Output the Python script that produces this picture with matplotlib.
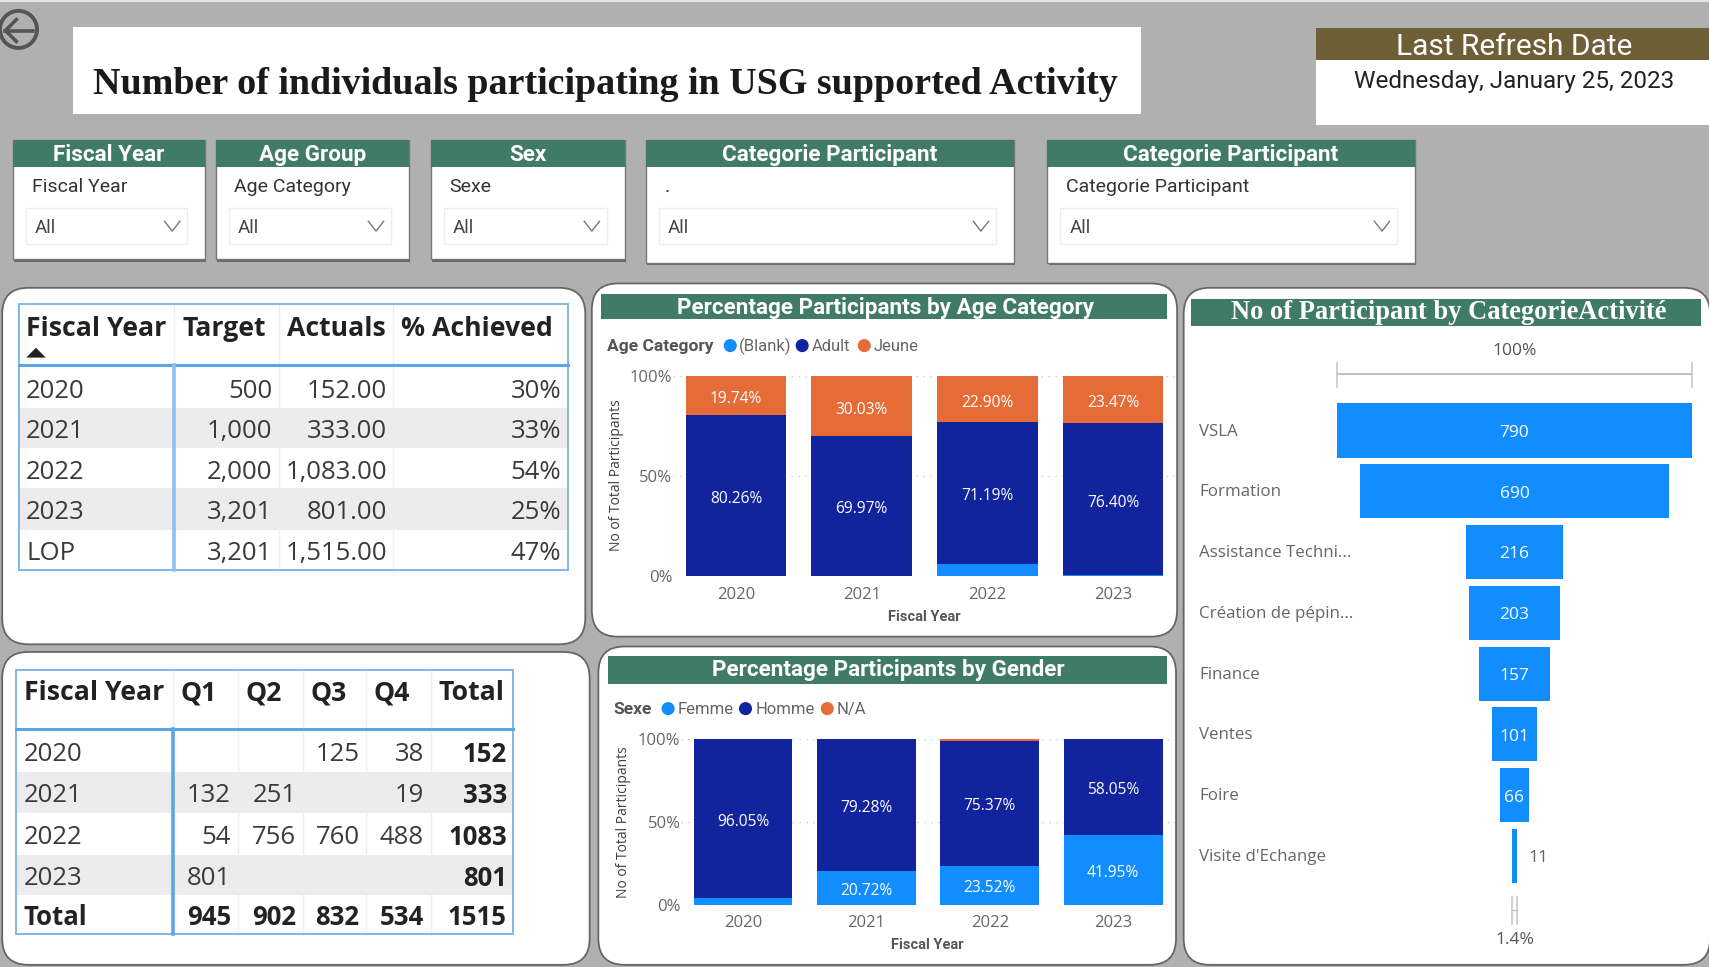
import matplotlib
matplotlib.use('Agg')
import matplotlib.pyplot as plt
from matplotlib.patches import FancyBboxPatch, Rectangle, Circle, Polygon
import numpy as np

W, H = 1568, 887  # layout coords are those of the shrunk reference

# data
title = 'Number of individuals participating in USG supported Activity'
slicer_titles = ['Fiscal Year', 'Age Group', 'Sex', 'Categorie Participant', 'Categorie Participant']
slicer_labels = ['Fiscal Year', 'Age Category', 'Sexe', '.', 'Categorie Participant']

t1_header = ['Fiscal Year', 'Target', 'Actuals', '% Achieved']
t1_years = ['2020', '2021', '2022', '2023', 'LOP']
t1_target = ['500', '1,000', '2,000', '3,201', '3,201']
t1_actuals = ['152.00', '333.00', '1,083.00', '801.00', '1,515.00']
t1_achieved = ['30%', '33%', '54%', '25%', '47%']

t2_header = ['Fiscal Year', 'Q1', 'Q2', 'Q3', 'Q4', 'Total']
t2_years = ['2020', '2021', '2022', '2023', 'Total']
t2_q1 = ['', '132', '54', '801', '945']
t2_q2 = ['', '251', '756', '', '902']
t2_q3 = ['125', '', '760', '', '832']
t2_q4 = ['38', '19', '488', '', '534']
t2_total = ['152', '333', '1083', '801', '1515']

years = ['2020', '2021', '2022', '2023']
age_blank = [0.0, 0.0, 5.91, 0.13]
age_adult = [80.26, 69.97, 71.19, 76.40]
age_jeune = [19.74, 30.03, 22.90, 23.47]
sex_femme = [3.95, 20.72, 23.52, 41.95]
sex_homme = [96.05, 79.28, 75.37, 58.05]
sex_na = [0.0, 0.0, 1.11, 0.0]

funnel_cats = ['VSLA', 'Formation', 'Assistance Techni...', 'Création de pépin...', 'Finance', 'Ventes', 'Foire', "Visite d'Echange"]
funnel_vals = [790, 690, 216, 203, 157, 101, 66, 11]

GREEN = '#3f7b66'
BLUE = '#118DFF'
NAVY = '#12239E'
ORANGE = '#E66C37'
LINE = '#7fb8ec'
TXT = '#3a3a3a'
GREY = '#666666'
BODY = ['Open Sans', 'DejaVu Sans']
NARROW = ['Roboto', 'DejaVu Sans']
SERIF = ['Liberation Serif', 'DejaVu Serif']

plt.rcParams['font.family'] = BODY

fig = plt.figure(figsize=(17.09, 9.67), dpi=100, facecolor='#b0b0b0')
bg = fig.add_axes([0, 0, 1, 1], zorder=0)
bg.set_xlim(0, W)
bg.set_ylim(H, 0)
bg.axis('off')


def box(x0, y0, x1, y1, c='white', **kw):
    bg.add_patch(Rectangle((x0, y0), x1 - x0, y1 - y0, facecolor=c, edgecolor=kw.pop('ec', 'none'), **kw))


def panel(x0, y0, x1, y1, r=24):
    bg.add_patch(FancyBboxPatch((x0, y0), x1 - x0, y1 - y0, boxstyle='round,pad=0,rounding_size=%d' % r,
                                facecolor='white', edgecolor='#666666', linewidth=1.3))


def sub_axes(x0, y0, x1, y1):
    return fig.add_axes([x0 / W, 1 - y1 / H, (x1 - x0) / W, (y1 - y0) / H], zorder=2, facecolor='none')


box(0, 0, W, 1.5, '#e4e4e4')

# back button
bg.add_patch(Circle((17, 27), 17, facecolor='none', edgecolor='#555555', linewidth=2.8))
bg.plot([5, 30], [28, 28], color='#555555', lw=2.6)
bg.plot([15, 5, 15], [18, 28, 38], color='#555555', lw=2.6)

# title
box(67, 25, 1047, 105)
bg.text(85, 77.5, title, family=SERIF, weight='bold', fontsize=27.4, color='#1a1a1a', va='center', ha='left')

box(1207, 26, W, 115)
box(1207, 26, W, 55, '#6f5f38')
bg.text(1389, 43.5, 'Last Refresh Date', family=NARROW, color='white', fontsize=21.5, ha='center', va='center')
bg.text(1389, 75, 'Wednesday, January 25, 2023', family=NARROW, color='#222222', fontsize=17.5, ha='center', va='center')

# slicers
sl_x = [(12, 188, 238), (198, 375, 238), (395, 573, 238), (593, 930, 241), (961, 1298, 241)]
for (x0, x1, y1), head, lab in zip(sl_x, slicer_titles, slicer_labels):
    box(x0 + 1, 130, x1 + 1, y1 + 2, '#6a6a6a')
    box(x0, 128, x1, y1, 'white', ec='#777777', linewidth=1)
    box(x0, 128, x1, 153, GREEN)
    bg.text((x0 + x1) / 2, 142, head, family=NARROW, weight='bold', color='white', fontsize=16.2, ha='center', va='center')
    bg.text(x0 + 17, 171.5, lab, family=NARROW, color='#333333', fontsize=14, ha='left', va='center')
    box(x0 + 12, 191, x1 - 16, 224, 'white', ec='#eeeeee', linewidth=1)
    bg.text(x0 + 20, 209, 'All', family=NARROW, color='#444444', fontsize=13.5, ha='left', va='center')
    bg.plot([x1 - 37, x1 - 30, x1 - 23], [203, 212, 203], color='#777777', lw=1)

# panels
panel(2, 264, 537, 591)
panel(543, 260, 1080, 584)
panel(1086, 264, 1569, 885)
panel(2, 598, 541, 885)
panel(549, 593, 1079, 885)


def table(x0, x1, y0, y1, head_y, seps, row_y, header, cols, head_size, head_dy, body_dy, bold_col=None, bold_last=False, thick=2.6, thick_c='#5ea5e8'):
    n = len(row_y) - 1
    for i in range(n):
        if i % 2 == 1:
            box(x0, row_y[i], x1, row_y[i + 1], '#ececec')
    edges = [x0] + seps + [x1]
    for s in seps:
        bg.plot([s, s], [y0, y1], color='#eeeeee', lw=1, zorder=3)
    bg.add_patch(Rectangle((x0, y0), x1 - x0, y1 - y0, fill=False, edgecolor=LINE, lw=1.4, zorder=4))
    bg.plot([x0, x1], [head_y, head_y], color='#5ea5e8', lw=2.2, zorder=4)
    bg.plot([seps[0], seps[0]], [head_y, y1], color=thick_c, lw=thick, zorder=4)
    for j, h in enumerate(header):
        hx = x0 + 7 if j == 0 else edges[j] + 7
        bg.text(hx, y0 + head_dy, h, fontweight='bold', fontsize=head_size, color='#222222', ha='left', va='center', zorder=5)
    for j, col in enumerate(cols):
        for i, val in enumerate(col):
            yc = (row_y[i] + row_y[i + 1]) / 2 + body_dy
            bold = (bold_last and (i == n - 1)) or (bold_col == j)
            col_c = '#222222' if bold else TXT
            wt = 'bold' if bold else 'normal'
            if j == 0:
                bg.text(x0 + 7, yc, val, fontsize=18.5, color=col_c, fontweight=wt, ha='left', va='center', zorder=5)
            else:
                bg.text(edges[j + 1] - 6, yc, val, fontsize=18.5, color=col_c, fontweight=wt, ha='right', va='center', zorder=5)


table(17, 521, 279, 523, 335, [160, 256, 361], [337, 374, 411, 448, 486, 523],
      t1_header, [t1_years, t1_target, t1_actuals, t1_achieved], 19.2, 23, 3.5, thick_c='#8cc2f2')
bg.add_patch(Polygon([[24, 328], [42, 328], [33, 319]], facecolor='#222222', edgecolor='none', zorder=5))

table(15, 471, 615, 857, 669, [159, 218, 278, 336, 395], [671, 708, 746, 784, 821, 857],
      t2_header, [t2_years, t2_q1, t2_q2, t2_q3, t2_q4, t2_total], 19.2, 21, 3, bold_col=5, bold_last=True)


def stacked(rect, series, colors, show_min, xpad):
    ax = sub_axes(*rect)
    x = np.arange(len(years))
    bottom = np.zeros(len(years))
    ax.set_axisbelow(True)
    ax.grid(axis='y', color='#cccccc', linestyle=(0, (1, 4)), linewidth=1)
    for vals, col in zip(series, colors):
        vals = np.array(vals)
        ax.bar(x, vals, 0.8, bottom=bottom, color=col, linewidth=0)
        for xi, b, v in zip(x, bottom, vals):
            if v >= show_min:
                ax.text(xi, b + v / 2 - 1.8, '%.2f%%' % v, color='white', fontsize=11.2, ha='center', va='center')
        bottom += vals
    ax.set_xlim(-0.5, 3.5)
    ax.set_ylim(0, 100)
    ax.set_yticks([0, 50, 100])
    ax.set_yticklabels(['0%', '50%', '100%'])
    ax.set_xticks(x)
    ax.set_xticklabels(years)
    ax.tick_params(length=0, labelsize=12, labelcolor=GREY)
    ax.tick_params(axis='x', pad=xpad)
    ax.tick_params(axis='y', pad=0.5)
    for s in ax.spines.values():
        s.set_visible(False)
    return ax


# age chart
box(551, 270, 1071, 293, GREEN)
bg.text(812, 282.5, 'Percentage Participants by Age Category', family=NARROW, weight='bold', color='white', fontsize=16.2, ha='center', va='center')
bg.text(557, 318, 'Age Category', family=NARROW, weight='bold', color='#555555', fontsize=12.5, ha='left', va='center')
for cx, tx, col, name in [(670, 678, BLUE, '(Blank)'), (736, 745, NAVY, 'Adult'), (793, 802, ORANGE, 'Jeune')]:
    bg.add_patch(Circle((cx, 317), 6, facecolor=col, edgecolor='none'))
    bg.text(tx, 318, name, family=NARROW, color=GREY, fontsize=12, ha='left', va='center')
stacked((617.5, 345, 1079, 528), [age_blank, age_adult, age_jeune], [BLUE, NAVY, ORANGE], 10, 8.5)
bg.text(566, 436, 'No of Total Participants', rotation=90, color='#3f3f3f', fontsize=10, ha='center', va='center')
bg.text(848, 565.5, 'Fiscal Year', family=NARROW, weight='bold', color='#555555', fontsize=10.5, ha='center', va='center')

# gender chart
box(558, 602, 1071, 627, GREEN)
bg.text(815, 614.5, 'Percentage Participants by Gender', family=NARROW, weight='bold', color='white', fontsize=16.2, ha='center', va='center')
bg.text(563, 651, 'Sexe', family=NARROW, weight='bold', color='#555555', fontsize=12.5, ha='left', va='center')
for cx, tx, col, name in [(613, 622, BLUE, 'Femme'), (684, 693, NAVY, 'Homme'), (759, 768, ORANGE, 'N/A')]:
    bg.add_patch(Circle((cx, 650), 6, facecolor=col, edgecolor='none'))
    bg.text(tx, 651, name, family=NARROW, color=GREY, fontsize=12, ha='left', va='center')
stacked((625, 678, 1078, 830), [sex_femme, sex_homme, sex_na], [BLUE, NAVY, ORANGE], 10, 7)
bg.text(572, 754, 'No of Total Participants', rotation=90, color='#3f3f3f', fontsize=10, ha='center', va='center')
bg.text(851, 866.5, 'Fiscal Year', family=NARROW, weight='bold', color='#555555', fontsize=10.5, ha='center', va='center')

# funnel
box(1093, 274, 1561, 299, GREEN)
bg.text(1329, 287, 'No of Participant by CategorieActivité', family=SERIF, weight='bold', color='white', fontsize=19.1, ha='center', va='center')
bg.text(1389.5, 322, '100%', color='#555555', fontsize=12.5, ha='center', va='center')
bg.plot([1227, 1552], [343, 343], color='#b5b5b5', lw=1.2)
bg.plot([1227, 1227], [333, 355], color='#c8c8c8', lw=1.2)
bg.plot([1552, 1552], [333, 355], color='#c8c8c8', lw=1.2)
bg.plot([1387, 1387], [823, 848], color='#c8c8c8', lw=1.2)
bg.plot([1392, 1392], [823, 848], color='#c8c8c8', lw=1.2)
bg.plot([1387, 1392], [835, 835], color='#c8c8c8', lw=1)
bg.text(1389.5, 862, '1.4%', color='#555555', fontsize=12.5, ha='center', va='center')

fa = sub_axes(1227, 367, 1552, 813)
v = np.array(funnel_vals)
pos = np.arange(len(v))
fa.barh(pos, v, height=0.89, left=-v / 2, color=BLUE, linewidth=0)
fa.set_xlim(-395, 395)
fa.set_ylim(len(v) - 0.5, -0.5)
fa.axis('off')
for i, (c, val) in enumerate(zip(funnel_cats, funnel_vals)):
    yc = 367 + (813 - 367) * (i + 0.5) / len(v)
    bg.text(1100, yc + 1, c, color=GREY, fontsize=12.2, ha='left', va='center')
    if val > 50:
        fa.text(0, i + 0.04, str(val), color='white', fontsize=12.5, ha='center', va='center')
    else:
        fa.text(v[i] / 2 + 47, i + 0.04, str(val), color=GREY, fontsize=12.5, ha='center', va='center')

fig.savefig('out.png', dpi=100, facecolor=fig.get_facecolor())
